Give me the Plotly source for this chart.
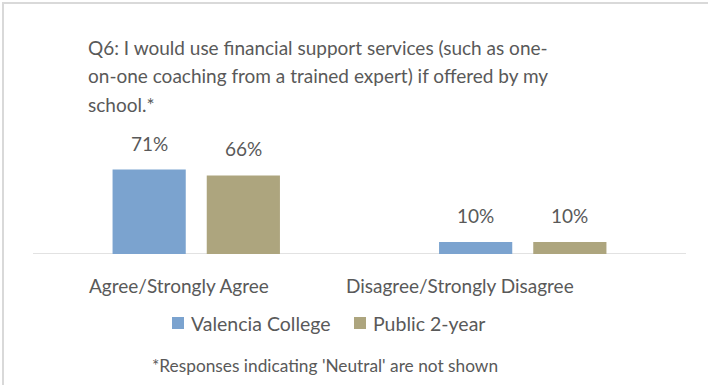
import plotly.graph_objects as go

# Survey responses (percent of students)
categories = ["Agree/Strongly Agree", "Disagree/Strongly Disagree"]
series_names = ["Valencia College", "Public 2-year"]
valencia = [71, 10]
public_2yr = [66, 10]
series_values = [valencia, public_2yr]
colors = ["#7BA3CF", "#ADA57E"]

title_lines = [
    "Q6: I would use financial support services (such as one-",
    "on-one coaching from a trained expert) if offered by my",
    "school.*",
]
footnote = "*Responses indicating 'Neutral' are not shown"

FONT = "Lato"
TEXT = "#595959"
W, H = 708, 385
L, R, T, B = 33, 22, 124, 131
PW, PH = W - L - R, H - T - B


def px_x(px):
    return (px - L) / PW


def px_y(py):
    return (H - B - py) / PH


fig = go.Figure()
for name, vals, col in zip(series_names, series_values, colors):
    fig.add_trace(go.Bar(
        x=categories, y=vals, name=name,
        marker=dict(color=col, line=dict(width=0)),
        hoverinfo="skip", showlegend=False,
    ))

annotations = []
shapes = []

# value labels above each bar
offsets = [-47, 47]
for vals, dx in zip(series_values, offsets):
    for cat, v in zip(categories, vals):
        annotations.append(dict(
            x=cat, y=v, xref="x", yref="y", text=f"{v}%",
            showarrow=False, xshift=dx, yshift=13, yanchor="bottom",
            font=dict(family=FONT, size=19, color=TEXT),
        ))

# category labels below the baseline
for cat, cx in zip(categories, [179, 460]):
    annotations.append(dict(
        x=px_x(cx), y=px_y(285), xref="paper", yref="paper", text=cat,
        showarrow=False, xanchor="center", yanchor="middle",
        font=dict(family=FONT, size=19, color=TEXT),
    ))

# multi-line title with its own line spacing
for i, line in enumerate(title_lines):
    annotations.append(dict(
        x=px_x(86), y=px_y(47 + i * 28.5), xref="paper", yref="paper",
        text=line, showarrow=False, xanchor="left", yanchor="middle",
        font=dict(family=FONT, size=19, color=TEXT),
    ))

# legend: colour squares followed by series names
for name, col, sx in zip(series_names, colors, [172, 354]):
    shapes.append(dict(
        type="rect", xref="paper", yref="paper",
        x0=px_x(sx), x1=px_x(sx + 12), y0=px_y(329), y1=px_y(317),
        fillcolor=col, line=dict(width=0),
    ))
    annotations.append(dict(
        x=px_x(sx + 17), y=px_y(323), xref="paper", yref="paper", text=name,
        showarrow=False, xanchor="left", yanchor="middle",
        font=dict(family=FONT, size=19.5, color=TEXT),
    ))

annotations.append(dict(
    x=px_x(325), y=px_y(365), xref="paper", yref="paper",
    text=footnote, showarrow=False, xanchor="center", yanchor="middle",
    font=dict(family=FONT, size=17.3, color=TEXT),
))

# category axis baseline
shapes.append(dict(type="line", xref="paper", yref="y", x0=0, x1=1, y0=0, y1=0,
                   line=dict(color="#D9D9D9", width=1.5), layer="below"))
# chart frame
shapes.append(dict(type="rect", xref="paper", yref="paper",
                   x0=px_x(3), x1=px_x(W + 10), y0=px_y(H + 10), y1=px_y(3),
                   line=dict(color="#D9D9D9", width=2)))

fig.update_layout(
    width=W, height=H,
    margin=dict(l=L, r=R, t=T, b=B),
    paper_bgcolor="white", plot_bgcolor="white",
    barmode="group", bargap=0.423, bargroupgap=0.223,
    showlegend=False,
    xaxis=dict(showgrid=False, zeroline=False, showline=False,
               showticklabels=False, ticks=""),
    yaxis=dict(range=[0, PH / 1.19], visible=False, showgrid=False, zeroline=False),
    annotations=annotations,
    shapes=shapes,
)

fig.write_html("out.html")
